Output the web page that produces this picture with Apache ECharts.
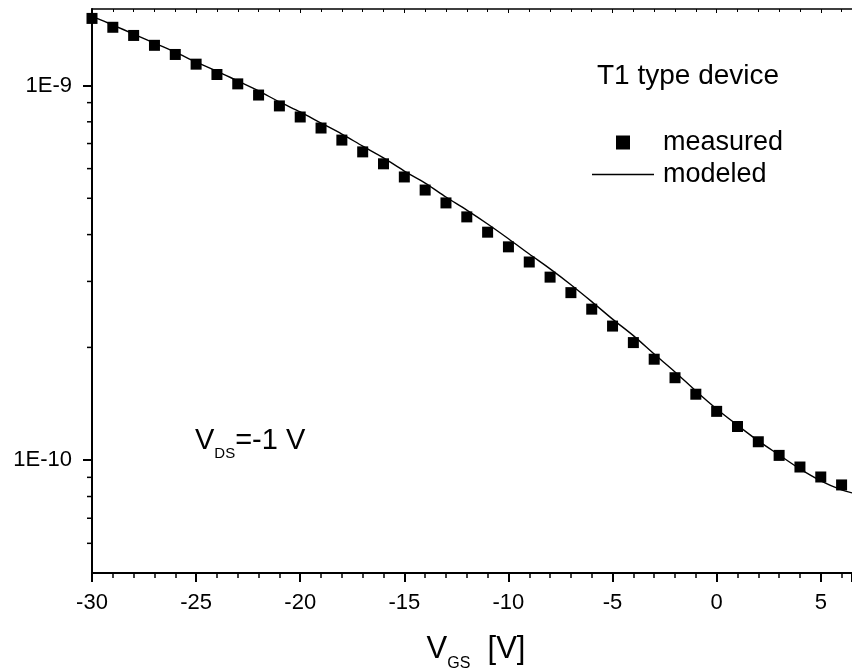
<!DOCTYPE html>
<html><head><meta charset="utf-8">
<script src="https://cdn.jsdelivr.net/npm/echarts@6/dist/echarts.min.js"></script>
<style>html,body{margin:0;padding:0;background:#fff}#c{width:852px;height:669px}</style>
</head><body><div id="c"></div>
<script>
// ---- data ----
const vgsMeasured = [-30,-29,-28,-27,-26,-25,-24,-23,-22,-21,-20,-19,-18,-17,-16,-15,-14,-13,-12,-11,-10,-9,-8,-7,-6,-5,-4,-3,-2,-1,0,1,2,3,4,5,6];
const idMeasured = [1.51e-9,1.43e-9,1.36e-9,1.28e-9,1.21e-9,1.14e-9,1.07e-9,1.01e-9,9.43e-10,8.82e-10,8.24e-10,7.70e-10,7.15e-10,6.65e-10,6.18e-10,5.70e-10,5.26e-10,4.86e-10,4.46e-10,4.06e-10,3.71e-10,3.38e-10,3.08e-10,2.80e-10,2.53e-10,2.28e-10,2.06e-10,1.86e-10,1.66e-10,1.50e-10,1.35e-10,1.23e-10,1.12e-10,1.03e-10,9.59e-11,9.02e-11,8.59e-11];
const vgsModel = [-30,-29,-28,-27,-26,-25,-24,-23,-22,-21,-20,-19,-18,-17,-16,-15,-14,-13,-12,-11,-10,-9,-8,-7,-6,-5,-4,-3,-2,-1,0,1,2,3,4,5,6,6.5];
const idModel = [1.53e-9,1.45e-9,1.372e-9,1.298e-9,1.228e-9,1.155e-9,1.093e-9,1.028e-9,9.67e-10,9.04e-10,8.50e-10,7.94e-10,7.42e-10,6.89e-10,6.41e-10,5.91e-10,5.49e-10,5.04e-10,4.65e-10,4.27e-10,3.90e-10,3.55e-10,3.24e-10,2.94e-10,2.65e-10,2.38e-10,2.15e-10,1.92e-10,1.72e-10,1.53e-10,1.37e-10,1.24e-10,1.126e-10,1.033e-10,9.48e-11,8.81e-11,8.33e-11,8.18e-11];
const yMinorTickValues = [6e-11,7e-11,8e-11,9e-11,2e-10,3e-10,4e-10,5e-10,6e-10,7e-10,8e-10,9e-10];
const xRange = [-30, 6.5];
const yRange = [5e-11, 1.6e-9];
const legendTitle = 'T1 type device';
const seriesNames = ['measured', 'modeled'];

// ---- chart ----
const FONT = 'Liberation Sans, Arial, sans-serif';
const chart = echarts.init(document.getElementById('c'), null, {renderer: 'canvas'});
const axisLine = {lineStyle: {color: '#000', width: 2}};
chart.setOption({
  animation: false,
  backgroundColor: '#fff',
  grid: {left: 92, right: 0, top: 9, bottom: 96, containLabel: false, outerBoundsMode: 'none'},
  xAxis: [{
    type: 'value', min: xRange[0], max: xRange[1], interval: 5,
    axisLine: Object.assign({onZero: false}, axisLine),
    axisTick: {show: true, inside: false, length: 9, lineStyle: {color: '#000', width: 2}},
    minorTick: {show: true, splitNumber: 5, length: 5, lineStyle: {color: '#000', width: 1.5}},
    splitLine: {show: false},
    axisLabel: {color: '#000', fontSize: 22, fontFamily: FONT, margin: 19, showMaxLabel: false},
    name: '{v|V}{s|GS}{v|  [V]}',
    nameLocation: 'middle', nameGap: 61,
    nameTextStyle: {
      padding: [0, 0, 0, 8],
      rich: {
        v: {fontSize: 31, fontFamily: FONT, color: '#000', verticalAlign: 'bottom'},
        s: {fontSize: 16, fontFamily: FONT, color: '#000', padding: [0, 0, -7, 0], verticalAlign: 'bottom'}
      }
    }
  }, {
    type: 'value', position: 'top', min: xRange[0], max: xRange[1], interval: 5,
    axisLine: {onZero: false, lineStyle: {color: '#000', width: 1.5}},
    axisTick: {show: true, inside: true, length: 4, lineStyle: {color: '#000', width: 1}},
    minorTick: {show: true, splitNumber: 5, length: 3, lineStyle: {color: '#000', width: 1}},
    axisLabel: {show: false}, splitLine: {show: false}
  }],
  yAxis: {
    type: 'log', logBase: 10, min: yRange[0], max: yRange[1],
    axisLine: Object.assign({onZero: false}, axisLine),
    axisTick: {show: true, inside: false, length: 9, lineStyle: {color: '#000', width: 2}},
    splitLine: {show: false},
    axisLabel: {
      color: '#000', fontSize: 22, fontFamily: FONT, margin: 20,
      showMinLabel: false, showMaxLabel: false,
      formatter: function (v) {
        const e = Math.log10(v);
        if (Math.abs(e - Math.round(e)) > 1e-6) return '';
        return '1E' + Math.round(e);
      }
    }
  },
  title: {
    text: legendTitle, left: 592, top: 57,
    textStyle: {fontSize: 28, fontWeight: 'normal', fontFamily: FONT, color: '#000'}
  },
  legend: [{
    data: [{name: seriesNames[0], icon: 'rect'}],
    left: 611, top: 124, orient: 'vertical',
    itemWidth: 14, itemHeight: 14,
    textStyle: {fontSize: 27, fontFamily: FONT, color: '#000', padding: [0, 0, 0, 28]},
    selectedMode: false
  }, {
    data: [{name: seriesNames[1], icon: 'rect'}],
    left: 587, top: 156, orient: 'vertical',
    itemWidth: 62, itemHeight: 1.5,
    itemStyle: {color: '#000'},
    textStyle: {fontSize: 27, fontFamily: FONT, color: '#000', padding: [0, 0, 0, 4]},
    selectedMode: false
  }],
  graphic: [{
    type: 'text', left: 195, top: 426,
    style: {
      text: '{v|V}{s|DS}{v|=-1 V}',
      rich: {
        v: {fontSize: 29, fontFamily: FONT, fill: '#000', verticalAlign: 'bottom'},
        s: {fontSize: 15, fontFamily: FONT, fill: '#000', padding: [0, 0, -6, 0], verticalAlign: 'bottom'}
      }
    }
  }],
  series: [{
    name: seriesNames[0], type: 'scatter',
    data: vgsMeasured.map((x, i) => [x, idMeasured[i]]),
    symbol: 'rect', symbolSize: 11,
    itemStyle: {color: '#000', opacity: 1},
    clip: true, z: 3
  }, {
    name: seriesNames[1], type: 'line',
    data: vgsModel.map((x, i) => [x, idModel[i]]),
    symbol: 'none', smooth: 0.3,
    lineStyle: {color: '#000', width: 1.4},
    itemStyle: {color: '#000'},
    clip: true, z: 2
  }, {
    name: 'yMinorTicks', type: 'custom',
    data: yMinorTickValues.map(v => [xRange[0], v]),
    clip: false, silent: true,
    renderItem: function (params, api) {
      const p = api.coord([api.value(0), api.value(1)]);
      return {type: 'line', shape: {x1: p[0] - 5, y1: p[1], x2: p[0], y2: p[1]},
              style: {stroke: '#000', lineWidth: 1.5}};
    }
  }]
});
</script></body></html>
